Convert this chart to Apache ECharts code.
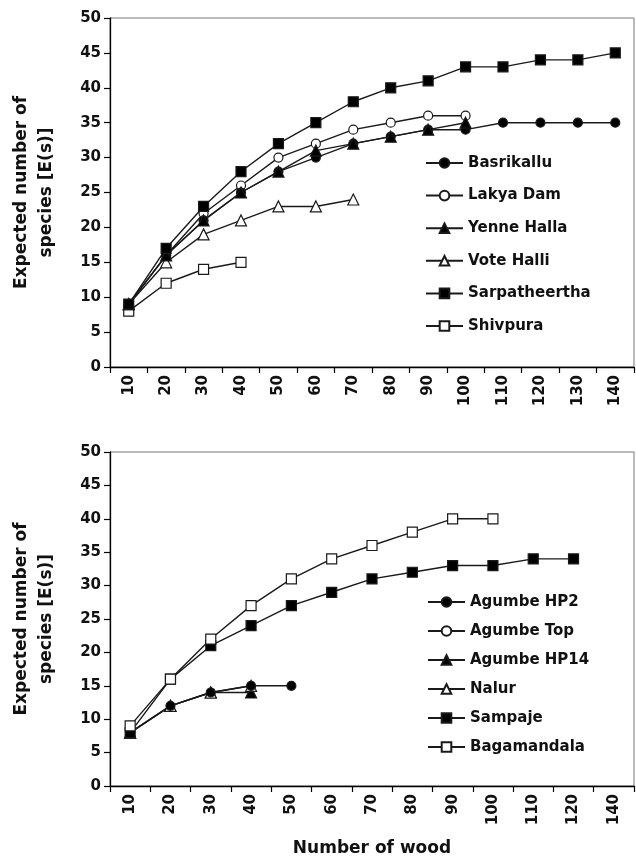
<!DOCTYPE html>
<html>
<head>
<meta charset="utf-8">
<script src="https://cdn.jsdelivr.net/npm/echarts@6/dist/echarts.min.js"></script>
<style>
html,body{margin:0;padding:0;background:#fff;}
#chart{width:636px;height:861px;}
</style>
</head>
<body>
<div id="chart"></div>
<script>
// ---- data ----
const topCategories = ['10','20','30','40','50','60','70','80','90','100','110','120','130','140'];
const bottomCategories = ['10','20','30','40','50','60','70','80','90','100','110','120','140'];
const yTicks = [0,5,10,15,20,25,30,35,40,45,50];

const basrikallu    = [9,16,21,25,28,30,32,33,34,34,35,35,35,35];
const lakyaDam      = [9,16,22,26,30,32,34,35,36,36];
const yenneHalla    = [9,16,21,25,28,31,32,33,34,35];
const voteHalli     = [9,15,19,21,23,23,24];
const sarpatheertha = [9,17,23,28,32,35,38,40,41,43,43,44,44,45];
const shivpura      = [8,12,14,15];

const agumbeHP2   = [8,12,14,15,15];
const agumbeTop   = [9];
const agumbeHP14  = [8,12,14,14];
const nalur       = [8,12,14,15];
const sampaje     = [8,16,21,24,27,29,31,32,33,33,34,34];
const bagamandala = [9,16,22,27,31,34,36,38,40,40];

// ---- styling ----
const FONT = 'DejaVu Sans';
const INK = '#111';
const LINE = '#1a1a1a';

function mk(name, data, symbol, filled, idx) {
  return {
    name: name, type: 'line', data: data,
    xAxisIndex: idx, yAxisIndex: idx,
    symbol: symbol,
    symbolSize: symbol === 'triangle' ? 11 : (symbol === 'rect' ? 10 : 9),
    lineStyle: { color: LINE, width: 1.4 },
    itemStyle: { color: filled ? '#000' : '#fff', borderColor: LINE, borderWidth: 1.2 },
    emphasis: { disabled: true },
    animation: false
  };
}

const chart = echarts.init(document.getElementById('chart'), null, { renderer: 'canvas' });

function xAxis(cats, idx, name) {
  return {
    type: 'category', data: cats, gridIndex: idx, boundaryGap: true,
    axisLine: { lineStyle: { color: '#000', width: 1.3 } },
    axisTick: { show: true, length: 6, inside: false, lineStyle: { color: '#000', width: 1.2 }, alignWithLabel: false },
    axisLabel: { rotate: 90, fontFamily: FONT, fontWeight: 'bold', fontSize: 15, color: INK, margin: 8, interval: 0 },
    name: name || '', nameLocation: 'middle', nameGap: 54,
    nameTextStyle: { fontFamily: FONT, fontWeight: 'bold', fontSize: 17, color: INK }
  };
}
function yAxis(idx) {
  return {
    type: 'value', gridIndex: idx, min: 0, max: 50, interval: 5,
    splitLine: { show: false },
    axisLine: { show: true, lineStyle: { color: '#000', width: 1.3 } },
    axisTick: { show: true, length: 6, lineStyle: { color: '#000', width: 1.2 } },
    axisLabel: { fontFamily: FONT, fontWeight: 'bold', fontSize: 15, color: INK, margin: 9,
      formatter: function (v) { return yTicks.indexOf(v) >= 0 ? String(v) : ''; } },
    name: 'Expected number of\nspecies [E(s)]', nameLocation: 'middle', nameRotate: 90, nameGap: 51,
    nameTextStyle: { fontFamily: FONT, fontWeight: 'bold', fontSize: 17, color: INK, lineHeight: 25, align: 'center' }
  };
}

const legendText = { fontFamily: FONT, fontWeight: 'bold', fontSize: 15, color: INK, lineHeight: 16 };

chart.setOption({
  animation: false,
  backgroundColor: '#fff',
  grid: [
    { left: 110, top: 18, width: 524, height: 349, show: true, borderColor: '#777', borderWidth: 1, containLabel: false },
    { left: 110, top: 452, width: 524, height: 334, show: true, borderColor: '#777', borderWidth: 1, containLabel: false }
  ],
  xAxis: [ xAxis(topCategories, 0), xAxis(bottomCategories, 1, 'Number of wood') ],
  yAxis: [ yAxis(0), yAxis(1) ],
  legend: [
    { left: 425, top: 155, orient: 'vertical', itemWidth: 37, itemHeight: 12, itemGap: 16.6,
      selectedMode: false, textStyle: legendText, padding: 0,
      data: ['Basrikallu','Lakya Dam','Yenne Halla','Vote Halli','Sarpatheertha','Shivpura'] },
    { left: 427, top: 594, orient: 'vertical', itemWidth: 37, itemHeight: 12, itemGap: 13,
      selectedMode: false, textStyle: legendText, padding: 0,
      data: ['Agumbe HP2','Agumbe Top','Agumbe HP14','Nalur','Sampaje','Bagamandala'] }
  ],
  series: [
    mk('Shivpura', shivpura, 'rect', false, 0),
    mk('Vote Halli', voteHalli, 'triangle', false, 0),
    mk('Lakya Dam', lakyaDam, 'circle', false, 0),
    mk('Basrikallu', basrikallu, 'circle', true, 0),
    mk('Yenne Halla', yenneHalla, 'triangle', true, 0),
    mk('Sarpatheertha', sarpatheertha, 'rect', true, 0),

    mk('Agumbe Top', agumbeTop, 'circle', false, 1),
    mk('Agumbe HP14', agumbeHP14, 'triangle', true, 1),
    mk('Nalur', nalur, 'triangle', false, 1),
    mk('Agumbe HP2', agumbeHP2, 'circle', true, 1),
    mk('Sampaje', sampaje, 'rect', true, 1),
    mk('Bagamandala', bagamandala, 'rect', false, 1)
  ]
});
</script>
</body>
</html>
